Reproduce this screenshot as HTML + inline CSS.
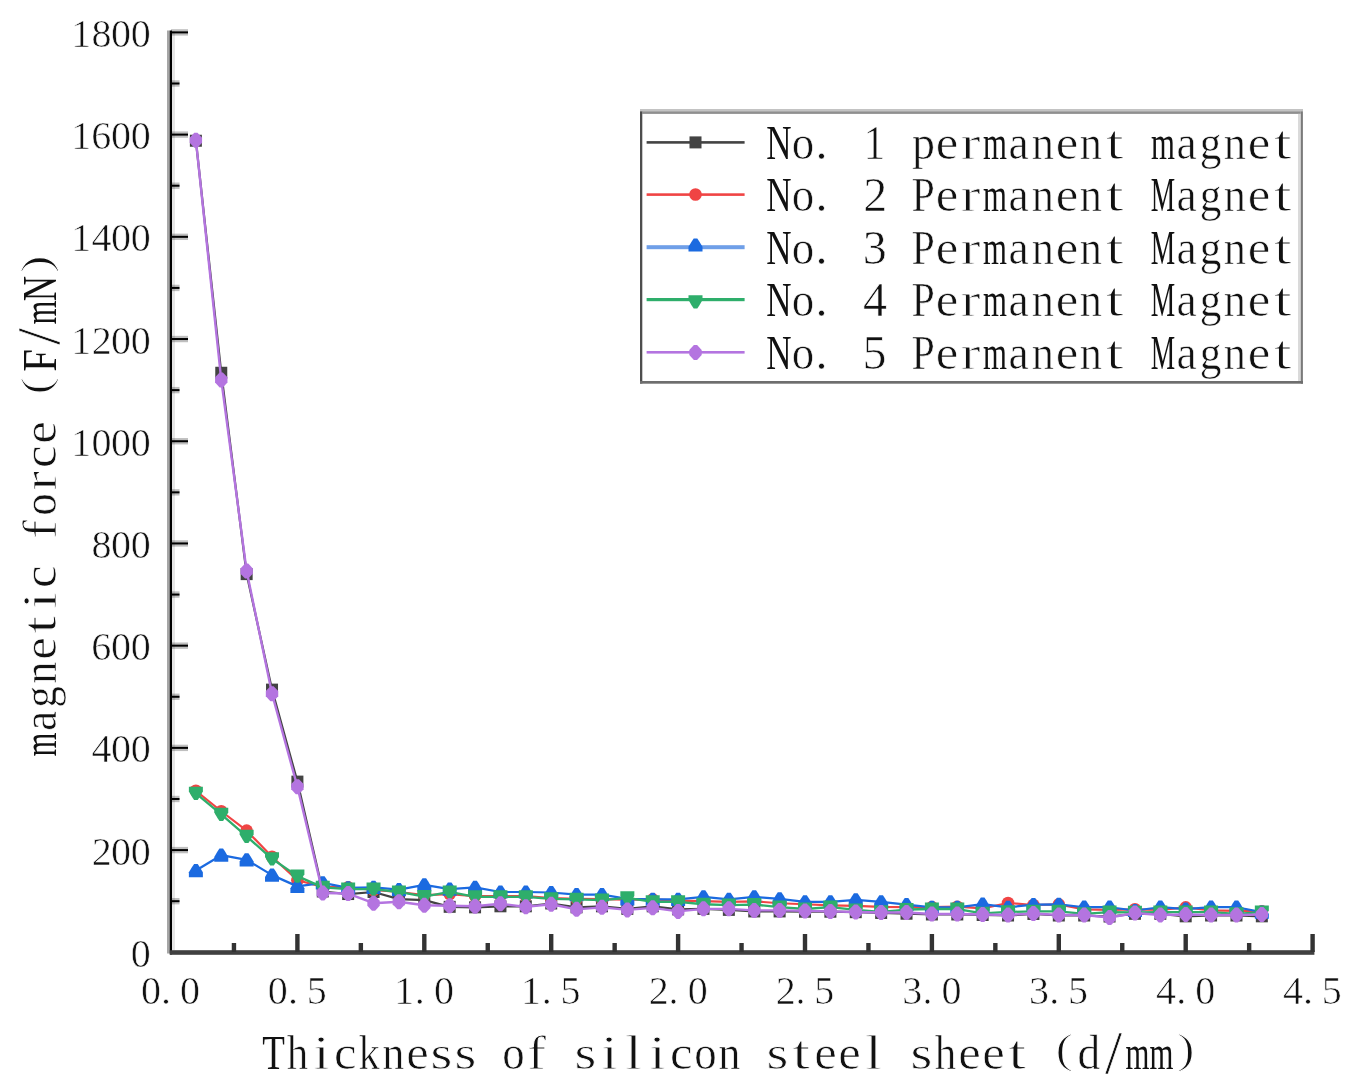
<!DOCTYPE html><html><head><meta charset="utf-8"><style>html,body{margin:0;padding:0;background:#fff;}body{width:1348px;height:1083px;overflow:hidden;} svg{display:block;filter:blur(0.4px);}text{font-family:"Liberation Serif",serif;stroke:#fff;stroke-width:0.6px;paint-order:normal;}</style></head><body><svg width="1348" height="1083" viewBox="0 0 1348 1083">
<rect width="100%" height="100%" fill="#fff"/>
<g font-family="Liberation Serif" fill="#111">
<text transform="translate(140.70,966.90) scale(1.000,1)" x="-10.00" font-size="40">0</text>
<text transform="translate(101.50,864.69) scale(1.000,1)" x="-9.78" font-size="40">2</text><text transform="translate(121.10,864.69) scale(1.000,1)" x="-10.00" font-size="40">0</text><text transform="translate(140.70,864.69) scale(1.000,1)" x="-10.00" font-size="40">0</text>
<text transform="translate(101.50,762.48) scale(1.000,1)" x="-10.08" font-size="40">4</text><text transform="translate(121.10,762.48) scale(1.000,1)" x="-10.00" font-size="40">0</text><text transform="translate(140.70,762.48) scale(1.000,1)" x="-10.00" font-size="40">0</text>
<text transform="translate(101.50,660.26) scale(1.000,1)" x="-10.26" font-size="40">6</text><text transform="translate(121.10,660.26) scale(1.000,1)" x="-10.00" font-size="40">0</text><text transform="translate(140.70,660.26) scale(1.000,1)" x="-10.00" font-size="40">0</text>
<text transform="translate(101.50,558.05) scale(1.000,1)" x="-10.00" font-size="40">8</text><text transform="translate(121.10,558.05) scale(1.000,1)" x="-10.00" font-size="40">0</text><text transform="translate(140.70,558.05) scale(1.000,1)" x="-10.00" font-size="40">0</text>
<text transform="translate(81.90,455.84) scale(1.000,1)" x="-10.56" font-size="40">1</text><text transform="translate(101.50,455.84) scale(1.000,1)" x="-10.00" font-size="40">0</text><text transform="translate(121.10,455.84) scale(1.000,1)" x="-10.00" font-size="40">0</text><text transform="translate(140.70,455.84) scale(1.000,1)" x="-10.00" font-size="40">0</text>
<text transform="translate(81.90,353.63) scale(1.000,1)" x="-10.56" font-size="40">1</text><text transform="translate(101.50,353.63) scale(1.000,1)" x="-9.78" font-size="40">2</text><text transform="translate(121.10,353.63) scale(1.000,1)" x="-10.00" font-size="40">0</text><text transform="translate(140.70,353.63) scale(1.000,1)" x="-10.00" font-size="40">0</text>
<text transform="translate(81.90,251.42) scale(1.000,1)" x="-10.56" font-size="40">1</text><text transform="translate(101.50,251.42) scale(1.000,1)" x="-10.08" font-size="40">4</text><text transform="translate(121.10,251.42) scale(1.000,1)" x="-10.00" font-size="40">0</text><text transform="translate(140.70,251.42) scale(1.000,1)" x="-10.00" font-size="40">0</text>
<text transform="translate(81.90,149.20) scale(1.000,1)" x="-10.56" font-size="40">1</text><text transform="translate(101.50,149.20) scale(1.000,1)" x="-10.26" font-size="40">6</text><text transform="translate(121.10,149.20) scale(1.000,1)" x="-10.00" font-size="40">0</text><text transform="translate(140.70,149.20) scale(1.000,1)" x="-10.00" font-size="40">0</text>
<text transform="translate(81.90,46.99) scale(1.000,1)" x="-10.56" font-size="40">1</text><text transform="translate(101.50,46.99) scale(1.000,1)" x="-10.00" font-size="40">8</text><text transform="translate(121.10,46.99) scale(1.000,1)" x="-10.00" font-size="40">0</text><text transform="translate(140.70,46.99) scale(1.000,1)" x="-10.00" font-size="40">0</text>
<text transform="translate(150.90,1004.00) scale(1.000,1)" x="-10.00" font-size="40">0</text><text transform="translate(165.99,1004.00) scale(1.000,1)" x="-5.00" font-size="40">.</text><text transform="translate(190.10,1004.00) scale(1.000,1)" x="-10.00" font-size="40">0</text>
<text transform="translate(277.80,1004.00) scale(1.000,1)" x="-10.00" font-size="40">0</text><text transform="translate(292.89,1004.00) scale(1.000,1)" x="-5.00" font-size="40">.</text><text transform="translate(317.00,1004.00) scale(1.000,1)" x="-10.38" font-size="40">5</text>
<text transform="translate(404.70,1004.00) scale(1.000,1)" x="-10.56" font-size="40">1</text><text transform="translate(419.79,1004.00) scale(1.000,1)" x="-5.00" font-size="40">.</text><text transform="translate(443.90,1004.00) scale(1.000,1)" x="-10.00" font-size="40">0</text>
<text transform="translate(531.60,1004.00) scale(1.000,1)" x="-10.56" font-size="40">1</text><text transform="translate(546.69,1004.00) scale(1.000,1)" x="-5.00" font-size="40">.</text><text transform="translate(570.80,1004.00) scale(1.000,1)" x="-10.38" font-size="40">5</text>
<text transform="translate(658.50,1004.00) scale(1.000,1)" x="-9.78" font-size="40">2</text><text transform="translate(673.59,1004.00) scale(1.000,1)" x="-5.00" font-size="40">.</text><text transform="translate(697.70,1004.00) scale(1.000,1)" x="-10.00" font-size="40">0</text>
<text transform="translate(785.40,1004.00) scale(1.000,1)" x="-9.78" font-size="40">2</text><text transform="translate(800.49,1004.00) scale(1.000,1)" x="-5.00" font-size="40">.</text><text transform="translate(824.60,1004.00) scale(1.000,1)" x="-10.38" font-size="40">5</text>
<text transform="translate(912.30,1004.00) scale(1.000,1)" x="-10.18" font-size="40">3</text><text transform="translate(927.39,1004.00) scale(1.000,1)" x="-5.00" font-size="40">.</text><text transform="translate(951.50,1004.00) scale(1.000,1)" x="-10.00" font-size="40">0</text>
<text transform="translate(1039.20,1004.00) scale(1.000,1)" x="-10.18" font-size="40">3</text><text transform="translate(1054.29,1004.00) scale(1.000,1)" x="-5.00" font-size="40">.</text><text transform="translate(1078.40,1004.00) scale(1.000,1)" x="-10.38" font-size="40">5</text>
<text transform="translate(1166.10,1004.00) scale(1.000,1)" x="-10.08" font-size="40">4</text><text transform="translate(1181.19,1004.00) scale(1.000,1)" x="-5.00" font-size="40">.</text><text transform="translate(1205.30,1004.00) scale(1.000,1)" x="-10.00" font-size="40">0</text>
<text transform="translate(1293.00,1004.00) scale(1.000,1)" x="-10.08" font-size="40">4</text><text transform="translate(1308.09,1004.00) scale(1.000,1)" x="-5.00" font-size="40">.</text><text transform="translate(1332.20,1004.00) scale(1.000,1)" x="-10.38" font-size="40">5</text>
<text transform="translate(273.50,1069.00) scale(0.770,1)" x="-14.70" style="stroke-width:0" font-size="48">T</text><text transform="translate(297.50,1069.00) scale(0.895,1)" x="-11.92" font-size="48">h</text><text transform="translate(321.50,1069.00) scale(1.270,1)" x="-6.71" style="stroke-width:0.90px" font-size="48">i</text><text transform="translate(345.50,1069.00) scale(1.056,1)" x="-10.83" style="stroke-width:0.67px" font-size="48">c</text><text transform="translate(369.50,1069.00) scale(0.888,1)" x="-12.46" font-size="48">k</text><text transform="translate(393.50,1069.00) scale(0.925,1)" x="-12.19" font-size="48">n</text><text transform="translate(417.50,1069.00) scale(1.058,1)" x="-10.76" style="stroke-width:0.68px" font-size="48">e</text><text transform="translate(441.50,1069.00) scale(1.168,1)" x="-9.46" style="stroke-width:0.80px" font-size="48">s</text><text transform="translate(465.50,1069.00) scale(1.168,1)" x="-9.46" style="stroke-width:0.80px" font-size="48">s</text><text transform="translate(513.50,1069.00) scale(0.934,1)" x="-12.00" font-size="48">o</text><text transform="translate(537.50,1069.00) scale(1.172,1)" x="-8.73" style="stroke-width:0.81px" font-size="48">f</text><text transform="translate(585.50,1069.00) scale(1.168,1)" x="-9.46" style="stroke-width:0.80px" font-size="48">s</text><text transform="translate(609.50,1069.00) scale(1.270,1)" x="-6.71" style="stroke-width:0.90px" font-size="48">i</text><text transform="translate(633.50,1069.00) scale(1.314,1)" x="-6.67" style="stroke-width:0.93px" font-size="48">l</text><text transform="translate(657.50,1069.00) scale(1.270,1)" x="-6.71" style="stroke-width:0.90px" font-size="48">i</text><text transform="translate(681.50,1069.00) scale(1.056,1)" x="-10.83" style="stroke-width:0.67px" font-size="48">c</text><text transform="translate(705.50,1069.00) scale(0.934,1)" x="-12.00" font-size="48">o</text><text transform="translate(729.50,1069.00) scale(0.925,1)" x="-12.19" font-size="48">n</text><text transform="translate(777.50,1069.00) scale(1.168,1)" x="-9.46" style="stroke-width:0.80px" font-size="48">s</text><text transform="translate(801.50,1069.00) scale(1.351,1)" x="-6.76" style="stroke-width:0.96px" font-size="48">t</text><text transform="translate(825.50,1069.00) scale(1.058,1)" x="-10.76" style="stroke-width:0.68px" font-size="48">e</text><text transform="translate(849.50,1069.00) scale(1.058,1)" x="-10.76" style="stroke-width:0.68px" font-size="48">e</text><text transform="translate(873.50,1069.00) scale(1.314,1)" x="-6.67" style="stroke-width:0.93px" font-size="48">l</text><text transform="translate(921.50,1069.00) scale(1.168,1)" x="-9.46" style="stroke-width:0.80px" font-size="48">s</text><text transform="translate(945.50,1069.00) scale(0.895,1)" x="-11.92" font-size="48">h</text><text transform="translate(969.50,1069.00) scale(1.058,1)" x="-10.76" style="stroke-width:0.68px" font-size="48">e</text><text transform="translate(993.50,1069.00) scale(1.058,1)" x="-10.76" style="stroke-width:0.68px" font-size="48">e</text><text transform="translate(1017.50,1069.00) scale(1.351,1)" x="-6.76" style="stroke-width:0.96px" font-size="48">t</text><text transform="translate(1064.70,1069.00) scale(1.250,1)" x="-7.31" y="-6.00" style="stroke-width:1.04px" font-size="42.38">(</text><text transform="translate(1089.50,1069.00) scale(0.946,1)" x="-12.57" font-size="48">d</text><text transform="translate(1113.50,1069.00) scale(1.000,1)" x="-8.54" y="3.50" font-size="61.44">/</text><text transform="translate(1137.50,1069.00) scale(0.641,1)" x="-18.80" style="stroke-width:0" font-size="48">m</text><text transform="translate(1161.50,1069.00) scale(0.641,1)" x="-18.80" style="stroke-width:0" font-size="48">m</text><text transform="translate(1185.50,1069.00) scale(1.250,1)" x="-6.81" y="-6.00" style="stroke-width:1.04px" font-size="42.38">)</text>
<text transform="translate(55.60,744.50) rotate(-90) scale(0.641,1)" x="-18.80" style="stroke-width:0" font-size="48">m</text><text transform="translate(55.60,720.50) rotate(-90) scale(0.949,1)" x="-11.17" font-size="48">a</text><text transform="translate(55.60,696.50) rotate(-90) scale(0.904,1)" x="-12.57" font-size="48">g</text><text transform="translate(55.60,672.50) rotate(-90) scale(0.925,1)" x="-12.19" font-size="48">n</text><text transform="translate(55.60,648.50) rotate(-90) scale(1.058,1)" x="-10.76" style="stroke-width:0.68px" font-size="48">e</text><text transform="translate(55.60,624.50) rotate(-90) scale(1.351,1)" x="-6.76" style="stroke-width:0.96px" font-size="48">t</text><text transform="translate(55.60,600.50) rotate(-90) scale(1.270,1)" x="-6.71" style="stroke-width:0.90px" font-size="48">i</text><text transform="translate(55.60,576.50) rotate(-90) scale(1.056,1)" x="-10.83" style="stroke-width:0.67px" font-size="48">c</text><text transform="translate(55.60,528.50) rotate(-90) scale(1.172,1)" x="-8.73" style="stroke-width:0.81px" font-size="48">f</text><text transform="translate(55.60,504.50) rotate(-90) scale(0.934,1)" x="-12.00" font-size="48">o</text><text transform="translate(55.60,480.50) rotate(-90) scale(1.233,1)" x="-8.26" style="stroke-width:0.86px" font-size="48">r</text><text transform="translate(55.60,456.50) rotate(-90) scale(1.056,1)" x="-10.83" style="stroke-width:0.67px" font-size="48">c</text><text transform="translate(55.60,432.50) rotate(-90) scale(1.058,1)" x="-10.76" style="stroke-width:0.68px" font-size="48">e</text><text transform="translate(55.60,385.30) rotate(-90) scale(1.250,1)" x="-7.31" y="-6.00" style="stroke-width:1.04px" font-size="42.38">(</text><text transform="translate(55.60,360.50) rotate(-90) scale(0.848,1)" x="-13.17" style="stroke-width:0" font-size="48">F</text><text transform="translate(55.60,336.50) rotate(-90) scale(1.000,1)" x="-8.54" y="3.50" font-size="61.44">/</text><text transform="translate(55.60,312.50) rotate(-90) scale(0.641,1)" x="-18.80" style="stroke-width:0" font-size="48">m</text><text transform="translate(55.60,288.50) rotate(-90) scale(0.730,1)" x="-17.47" style="stroke-width:0" font-size="48">N</text><text transform="translate(55.60,264.50) rotate(-90) scale(1.250,1)" x="-6.81" y="-6.00" style="stroke-width:1.04px" font-size="42.38">)</text>
</g>
<rect x="167" y="30.5" width="3" height="923" fill="#a6a6a6"/><rect x="172" y="31" width="3" height="919" fill="#e6e6e6"/><rect x="169.8" y="30.5" width="2.2" height="924" fill="#000"/><rect x="171" y="897.99" width="8.5" height="6.4" fill="#000" opacity="0.25"/><rect x="171" y="900.19" width="8.5" height="2.0" fill="#000"/><rect x="171" y="846.89" width="17" height="6.4" fill="#000" opacity="0.25"/><rect x="171" y="849.09" width="17" height="2.0" fill="#000"/><rect x="171" y="795.78" width="8.5" height="6.4" fill="#000" opacity="0.25"/><rect x="171" y="797.98" width="8.5" height="2.0" fill="#000"/><rect x="171" y="744.68" width="17" height="6.4" fill="#000" opacity="0.25"/><rect x="171" y="746.88" width="17" height="2.0" fill="#000"/><rect x="171" y="693.57" width="8.5" height="6.4" fill="#000" opacity="0.25"/><rect x="171" y="695.77" width="8.5" height="2.0" fill="#000"/><rect x="171" y="642.46" width="17" height="6.4" fill="#000" opacity="0.25"/><rect x="171" y="644.66" width="17" height="2.0" fill="#000"/><rect x="171" y="591.36" width="8.5" height="6.4" fill="#000" opacity="0.25"/><rect x="171" y="593.56" width="8.5" height="2.0" fill="#000"/><rect x="171" y="540.25" width="17" height="6.4" fill="#000" opacity="0.25"/><rect x="171" y="542.45" width="17" height="2.0" fill="#000"/><rect x="171" y="489.15" width="8.5" height="6.4" fill="#000" opacity="0.25"/><rect x="171" y="491.35" width="8.5" height="2.0" fill="#000"/><rect x="171" y="438.04" width="17" height="6.4" fill="#000" opacity="0.25"/><rect x="171" y="440.24" width="17" height="2.0" fill="#000"/><rect x="171" y="386.93" width="8.5" height="6.4" fill="#000" opacity="0.25"/><rect x="171" y="389.13" width="8.5" height="2.0" fill="#000"/><rect x="171" y="335.83" width="17" height="6.4" fill="#000" opacity="0.25"/><rect x="171" y="338.03" width="17" height="2.0" fill="#000"/><rect x="171" y="284.72" width="8.5" height="6.4" fill="#000" opacity="0.25"/><rect x="171" y="286.92" width="8.5" height="2.0" fill="#000"/><rect x="171" y="233.62" width="17" height="6.4" fill="#000" opacity="0.25"/><rect x="171" y="235.82" width="17" height="2.0" fill="#000"/><rect x="171" y="182.51" width="8.5" height="6.4" fill="#000" opacity="0.25"/><rect x="171" y="184.71" width="8.5" height="2.0" fill="#000"/><rect x="171" y="131.40" width="17" height="6.4" fill="#000" opacity="0.25"/><rect x="171" y="133.60" width="17" height="2.0" fill="#000"/><rect x="171" y="80.30" width="8.5" height="6.4" fill="#000" opacity="0.25"/><rect x="171" y="82.50" width="8.5" height="2.0" fill="#000"/><rect x="171" y="29.19" width="17" height="6.4" fill="#000" opacity="0.25"/><rect x="171" y="31.39" width="17" height="2.0" fill="#000"/><rect x="169.8" y="950.2" width="1144.60" height="4.6" fill="#404040"/><rect x="231.75" y="943.00" width="4.4" height="9" fill="#333"/><rect x="295.20" y="934.00" width="4.4" height="18" fill="#333"/><rect x="358.65" y="943.00" width="4.4" height="9" fill="#333"/><rect x="422.10" y="934.00" width="4.4" height="18" fill="#333"/><rect x="485.55" y="943.00" width="4.4" height="9" fill="#333"/><rect x="549.00" y="934.00" width="4.4" height="18" fill="#333"/><rect x="612.45" y="943.00" width="4.4" height="9" fill="#333"/><rect x="675.90" y="934.00" width="4.4" height="18" fill="#333"/><rect x="739.35" y="943.00" width="4.4" height="9" fill="#333"/><rect x="802.80" y="934.00" width="4.4" height="18" fill="#333"/><rect x="866.25" y="943.00" width="4.4" height="9" fill="#333"/><rect x="929.70" y="934.00" width="4.4" height="18" fill="#333"/><rect x="993.15" y="943.00" width="4.4" height="9" fill="#333"/><rect x="1056.60" y="934.00" width="4.4" height="18" fill="#333"/><rect x="1120.05" y="943.00" width="4.4" height="9" fill="#333"/><rect x="1183.50" y="934.00" width="4.4" height="18" fill="#333"/><rect x="1246.95" y="943.00" width="4.4" height="9" fill="#333"/><rect x="1310.40" y="934.00" width="4.4" height="18" fill="#333"/>
<polyline points="195.88,140.74 221.26,372.76 246.64,574.12 272.02,689.62 297.40,781.61 322.78,891.48 348.16,894.04 373.54,891.99 398.92,899.15 424.30,900.17 449.68,906.82 475.06,907.33 500.44,906.30 525.82,906.30 551.20,903.49 576.58,907.33 601.96,906.30 627.34,908.86 652.72,906.30 678.10,909.37 703.48,908.86 728.86,909.88 754.24,911.42 779.62,911.42 805.00,911.72 830.38,911.72 855.76,912.18 881.14,912.95 906.52,913.71 931.90,914.48 957.28,914.48 982.66,914.99 1008.04,915.50 1033.42,913.97 1058.80,915.50 1084.18,915.50 1109.56,916.53 1134.94,913.82 1160.32,913.82 1185.70,916.32 1211.08,915.50 1236.46,915.50 1261.84,916.32" fill="none" stroke="#434343" stroke-width="2.2" stroke-linejoin="round"/>
<rect x="189.88" y="134.74" width="12" height="12" fill="#434343"/><rect x="215.26" y="366.76" width="12" height="12" fill="#434343"/><rect x="240.64" y="568.12" width="12" height="12" fill="#434343"/><rect x="266.02" y="683.62" width="12" height="12" fill="#434343"/><rect x="291.40" y="775.61" width="12" height="12" fill="#434343"/><rect x="316.78" y="885.48" width="12" height="12" fill="#434343"/><rect x="342.16" y="888.04" width="12" height="12" fill="#434343"/><rect x="367.54" y="885.99" width="12" height="12" fill="#434343"/><rect x="392.92" y="893.15" width="12" height="12" fill="#434343"/><rect x="418.30" y="894.17" width="12" height="12" fill="#434343"/><rect x="443.68" y="900.82" width="12" height="12" fill="#434343"/><rect x="469.06" y="901.33" width="12" height="12" fill="#434343"/><rect x="494.44" y="900.30" width="12" height="12" fill="#434343"/><rect x="519.82" y="900.30" width="12" height="12" fill="#434343"/><rect x="545.20" y="897.49" width="12" height="12" fill="#434343"/><rect x="570.58" y="901.33" width="12" height="12" fill="#434343"/><rect x="595.96" y="900.30" width="12" height="12" fill="#434343"/><rect x="621.34" y="902.86" width="12" height="12" fill="#434343"/><rect x="646.72" y="900.30" width="12" height="12" fill="#434343"/><rect x="672.10" y="903.37" width="12" height="12" fill="#434343"/><rect x="697.48" y="902.86" width="12" height="12" fill="#434343"/><rect x="722.86" y="903.88" width="12" height="12" fill="#434343"/><rect x="748.24" y="905.42" width="12" height="12" fill="#434343"/><rect x="773.62" y="905.42" width="12" height="12" fill="#434343"/><rect x="799.00" y="905.72" width="12" height="12" fill="#434343"/><rect x="824.38" y="905.72" width="12" height="12" fill="#434343"/><rect x="849.76" y="906.18" width="12" height="12" fill="#434343"/><rect x="875.14" y="906.95" width="12" height="12" fill="#434343"/><rect x="900.52" y="907.71" width="12" height="12" fill="#434343"/><rect x="925.90" y="908.48" width="12" height="12" fill="#434343"/><rect x="951.28" y="908.48" width="12" height="12" fill="#434343"/><rect x="976.66" y="908.99" width="12" height="12" fill="#434343"/><rect x="1002.04" y="909.50" width="12" height="12" fill="#434343"/><rect x="1027.42" y="907.97" width="12" height="12" fill="#434343"/><rect x="1052.80" y="909.50" width="12" height="12" fill="#434343"/><rect x="1078.18" y="909.50" width="12" height="12" fill="#434343"/><rect x="1103.56" y="910.53" width="12" height="12" fill="#434343"/><rect x="1128.94" y="907.82" width="12" height="12" fill="#434343"/><rect x="1154.32" y="907.82" width="12" height="12" fill="#434343"/><rect x="1179.70" y="910.32" width="12" height="12" fill="#434343"/><rect x="1205.08" y="909.50" width="12" height="12" fill="#434343"/><rect x="1230.46" y="909.50" width="12" height="12" fill="#434343"/><rect x="1255.84" y="910.32" width="12" height="12" fill="#434343"/>
<polyline points="195.88,790.81 221.26,811.25 246.64,830.67 272.02,856.73 297.40,880.24 322.78,886.88 348.16,887.40 373.54,889.95 398.92,891.99 424.30,895.06 449.68,894.04 475.06,896.08 500.44,896.08 525.82,896.08 551.20,898.13 576.58,898.89 601.96,899.15 627.34,899.66 652.72,899.41 678.10,900.68 703.48,901.19 728.86,901.91 754.24,901.30 779.62,903.24 805.00,904.26 830.38,905.28 855.76,905.79 881.14,906.82 906.52,907.17 931.90,907.17 957.28,906.71 982.66,908.35 1008.04,902.98 1033.42,904.98 1058.80,904.41 1084.18,909.32 1109.56,909.88 1134.94,909.32 1160.32,909.88 1185.70,907.33 1211.08,910.39 1236.46,910.90 1261.84,911.42" fill="none" stroke="#f04444" stroke-width="2.2" stroke-linejoin="round"/>
<circle cx="195.88" cy="790.81" r="6.3" fill="#f04444"/><circle cx="221.26" cy="811.25" r="6.3" fill="#f04444"/><circle cx="246.64" cy="830.67" r="6.3" fill="#f04444"/><circle cx="272.02" cy="856.73" r="6.3" fill="#f04444"/><circle cx="297.40" cy="880.24" r="6.3" fill="#f04444"/><circle cx="322.78" cy="886.88" r="6.3" fill="#f04444"/><circle cx="348.16" cy="887.40" r="6.3" fill="#f04444"/><circle cx="373.54" cy="889.95" r="6.3" fill="#f04444"/><circle cx="398.92" cy="891.99" r="6.3" fill="#f04444"/><circle cx="424.30" cy="895.06" r="6.3" fill="#f04444"/><circle cx="449.68" cy="894.04" r="6.3" fill="#f04444"/><circle cx="475.06" cy="896.08" r="6.3" fill="#f04444"/><circle cx="500.44" cy="896.08" r="6.3" fill="#f04444"/><circle cx="525.82" cy="896.08" r="6.3" fill="#f04444"/><circle cx="551.20" cy="898.13" r="6.3" fill="#f04444"/><circle cx="576.58" cy="898.89" r="6.3" fill="#f04444"/><circle cx="601.96" cy="899.15" r="6.3" fill="#f04444"/><circle cx="627.34" cy="899.66" r="6.3" fill="#f04444"/><circle cx="652.72" cy="899.41" r="6.3" fill="#f04444"/><circle cx="678.10" cy="900.68" r="6.3" fill="#f04444"/><circle cx="703.48" cy="901.19" r="6.3" fill="#f04444"/><circle cx="728.86" cy="901.91" r="6.3" fill="#f04444"/><circle cx="754.24" cy="901.30" r="6.3" fill="#f04444"/><circle cx="779.62" cy="903.24" r="6.3" fill="#f04444"/><circle cx="805.00" cy="904.26" r="6.3" fill="#f04444"/><circle cx="830.38" cy="905.28" r="6.3" fill="#f04444"/><circle cx="855.76" cy="905.79" r="6.3" fill="#f04444"/><circle cx="881.14" cy="906.82" r="6.3" fill="#f04444"/><circle cx="906.52" cy="907.17" r="6.3" fill="#f04444"/><circle cx="931.90" cy="907.17" r="6.3" fill="#f04444"/><circle cx="957.28" cy="906.71" r="6.3" fill="#f04444"/><circle cx="982.66" cy="908.35" r="6.3" fill="#f04444"/><circle cx="1008.04" cy="902.98" r="6.3" fill="#f04444"/><circle cx="1033.42" cy="904.98" r="6.3" fill="#f04444"/><circle cx="1058.80" cy="904.41" r="6.3" fill="#f04444"/><circle cx="1084.18" cy="909.32" r="6.3" fill="#f04444"/><circle cx="1109.56" cy="909.88" r="6.3" fill="#f04444"/><circle cx="1134.94" cy="909.32" r="6.3" fill="#f04444"/><circle cx="1160.32" cy="909.88" r="6.3" fill="#f04444"/><circle cx="1185.70" cy="907.33" r="6.3" fill="#f04444"/><circle cx="1211.08" cy="910.39" r="6.3" fill="#f04444"/><circle cx="1236.46" cy="910.90" r="6.3" fill="#f04444"/><circle cx="1261.84" cy="911.42" r="6.3" fill="#f04444"/>
<polyline points="195.88,870.53 221.26,855.20 246.64,859.80 272.02,875.13 297.40,886.37 322.78,882.80 348.16,887.91 373.54,887.40 398.92,889.70 424.30,884.84 449.68,889.18 475.06,887.40 500.44,891.99 525.82,891.99 551.20,892.51 576.58,894.55 601.96,894.55 627.34,898.89 652.72,899.30 678.10,899.30 703.48,896.90 728.86,899.30 754.24,896.90 779.62,898.89 805.00,901.81 830.38,901.81 855.76,899.81 881.14,901.81 906.52,904.62 931.90,907.33 957.28,907.33 982.66,904.21 1008.04,907.33 1033.42,904.62 1058.80,904.31 1084.18,907.22 1109.56,907.22 1134.94,910.50 1160.32,907.22 1185.70,909.22 1211.08,907.22 1236.46,907.22 1261.84,912.13" fill="none" stroke="#1b6ae0" stroke-width="2.2" stroke-linejoin="round"/>
<polygon points="188.88,877.13 202.88,877.13 202.88,872.33 199.68,866.93 197.68,863.93 194.08,863.93 192.08,866.93 188.88,872.33" fill="#1b6ae0"/><polygon points="214.26,861.80 228.26,861.80 228.26,857.00 225.06,851.60 223.06,848.60 219.46,848.60 217.46,851.60 214.26,857.00" fill="#1b6ae0"/><polygon points="239.64,866.40 253.64,866.40 253.64,861.60 250.44,856.20 248.44,853.20 244.84,853.20 242.84,856.20 239.64,861.60" fill="#1b6ae0"/><polygon points="265.02,881.73 279.02,881.73 279.02,876.93 275.82,871.53 273.82,868.53 270.22,868.53 268.22,871.53 265.02,876.93" fill="#1b6ae0"/><polygon points="290.40,892.97 304.40,892.97 304.40,888.17 301.20,882.77 299.20,879.77 295.60,879.77 293.60,882.77 290.40,888.17" fill="#1b6ae0"/><polygon points="315.78,889.40 329.78,889.40 329.78,884.60 326.58,879.20 324.58,876.20 320.98,876.20 318.98,879.20 315.78,884.60" fill="#1b6ae0"/><polygon points="341.16,894.51 355.16,894.51 355.16,889.71 351.96,884.31 349.96,881.31 346.36,881.31 344.36,884.31 341.16,889.71" fill="#1b6ae0"/><polygon points="366.54,894.00 380.54,894.00 380.54,889.20 377.34,883.80 375.34,880.80 371.74,880.80 369.74,883.80 366.54,889.20" fill="#1b6ae0"/><polygon points="391.92,896.30 405.92,896.30 405.92,891.50 402.72,886.10 400.72,883.10 397.12,883.10 395.12,886.10 391.92,891.50" fill="#1b6ae0"/><polygon points="417.30,891.44 431.30,891.44 431.30,886.64 428.10,881.24 426.10,878.24 422.50,878.24 420.50,881.24 417.30,886.64" fill="#1b6ae0"/><polygon points="442.68,895.78 456.68,895.78 456.68,890.98 453.48,885.58 451.48,882.58 447.88,882.58 445.88,885.58 442.68,890.98" fill="#1b6ae0"/><polygon points="468.06,894.00 482.06,894.00 482.06,889.20 478.86,883.80 476.86,880.80 473.26,880.80 471.26,883.80 468.06,889.20" fill="#1b6ae0"/><polygon points="493.44,898.59 507.44,898.59 507.44,893.79 504.24,888.39 502.24,885.39 498.64,885.39 496.64,888.39 493.44,893.79" fill="#1b6ae0"/><polygon points="518.82,898.59 532.82,898.59 532.82,893.79 529.62,888.39 527.62,885.39 524.02,885.39 522.02,888.39 518.82,893.79" fill="#1b6ae0"/><polygon points="544.20,899.11 558.20,899.11 558.20,894.31 555.00,888.91 553.00,885.91 549.40,885.91 547.40,888.91 544.20,894.31" fill="#1b6ae0"/><polygon points="569.58,901.15 583.58,901.15 583.58,896.35 580.38,890.95 578.38,887.95 574.78,887.95 572.78,890.95 569.58,896.35" fill="#1b6ae0"/><polygon points="594.96,901.15 608.96,901.15 608.96,896.35 605.76,890.95 603.76,887.95 600.16,887.95 598.16,890.95 594.96,896.35" fill="#1b6ae0"/><polygon points="620.34,905.49 634.34,905.49 634.34,900.69 631.14,895.29 629.14,892.29 625.54,892.29 623.54,895.29 620.34,900.69" fill="#1b6ae0"/><polygon points="645.72,905.90 659.72,905.90 659.72,901.10 656.52,895.70 654.52,892.70 650.92,892.70 648.92,895.70 645.72,901.10" fill="#1b6ae0"/><polygon points="671.10,905.90 685.10,905.90 685.10,901.10 681.90,895.70 679.90,892.70 676.30,892.70 674.30,895.70 671.10,901.10" fill="#1b6ae0"/><polygon points="696.48,903.50 710.48,903.50 710.48,898.70 707.28,893.30 705.28,890.30 701.68,890.30 699.68,893.30 696.48,898.70" fill="#1b6ae0"/><polygon points="721.86,905.90 735.86,905.90 735.86,901.10 732.66,895.70 730.66,892.70 727.06,892.70 725.06,895.70 721.86,901.10" fill="#1b6ae0"/><polygon points="747.24,903.50 761.24,903.50 761.24,898.70 758.04,893.30 756.04,890.30 752.44,890.30 750.44,893.30 747.24,898.70" fill="#1b6ae0"/><polygon points="772.62,905.49 786.62,905.49 786.62,900.69 783.42,895.29 781.42,892.29 777.82,892.29 775.82,895.29 772.62,900.69" fill="#1b6ae0"/><polygon points="798.00,908.41 812.00,908.41 812.00,903.61 808.80,898.21 806.80,895.21 803.20,895.21 801.20,898.21 798.00,903.61" fill="#1b6ae0"/><polygon points="823.38,908.41 837.38,908.41 837.38,903.61 834.18,898.21 832.18,895.21 828.58,895.21 826.58,898.21 823.38,903.61" fill="#1b6ae0"/><polygon points="848.76,906.41 862.76,906.41 862.76,901.61 859.56,896.21 857.56,893.21 853.96,893.21 851.96,896.21 848.76,901.61" fill="#1b6ae0"/><polygon points="874.14,908.41 888.14,908.41 888.14,903.61 884.94,898.21 882.94,895.21 879.34,895.21 877.34,898.21 874.14,903.61" fill="#1b6ae0"/><polygon points="899.52,911.22 913.52,911.22 913.52,906.42 910.32,901.02 908.32,898.02 904.72,898.02 902.72,901.02 899.52,906.42" fill="#1b6ae0"/><polygon points="924.90,913.93 938.90,913.93 938.90,909.13 935.70,903.73 933.70,900.73 930.10,900.73 928.10,903.73 924.90,909.13" fill="#1b6ae0"/><polygon points="950.28,913.93 964.28,913.93 964.28,909.13 961.08,903.73 959.08,900.73 955.48,900.73 953.48,903.73 950.28,909.13" fill="#1b6ae0"/><polygon points="975.66,910.81 989.66,910.81 989.66,906.01 986.46,900.61 984.46,897.61 980.86,897.61 978.86,900.61 975.66,906.01" fill="#1b6ae0"/><polygon points="1001.04,913.93 1015.04,913.93 1015.04,909.13 1011.84,903.73 1009.84,900.73 1006.24,900.73 1004.24,903.73 1001.04,909.13" fill="#1b6ae0"/><polygon points="1026.42,911.22 1040.42,911.22 1040.42,906.42 1037.22,901.02 1035.22,898.02 1031.62,898.02 1029.62,901.02 1026.42,906.42" fill="#1b6ae0"/><polygon points="1051.80,910.91 1065.80,910.91 1065.80,906.11 1062.60,900.71 1060.60,897.71 1057.00,897.71 1055.00,900.71 1051.80,906.11" fill="#1b6ae0"/><polygon points="1077.18,913.82 1091.18,913.82 1091.18,909.02 1087.98,903.62 1085.98,900.62 1082.38,900.62 1080.38,903.62 1077.18,909.02" fill="#1b6ae0"/><polygon points="1102.56,913.82 1116.56,913.82 1116.56,909.02 1113.36,903.62 1111.36,900.62 1107.76,900.62 1105.76,903.62 1102.56,909.02" fill="#1b6ae0"/><polygon points="1127.94,917.10 1141.94,917.10 1141.94,912.30 1138.74,906.90 1136.74,903.90 1133.14,903.90 1131.14,906.90 1127.94,912.30" fill="#1b6ae0"/><polygon points="1153.32,913.82 1167.32,913.82 1167.32,909.02 1164.12,903.62 1162.12,900.62 1158.52,900.62 1156.52,903.62 1153.32,909.02" fill="#1b6ae0"/><polygon points="1178.70,915.82 1192.70,915.82 1192.70,911.02 1189.50,905.62 1187.50,902.62 1183.90,902.62 1181.90,905.62 1178.70,911.02" fill="#1b6ae0"/><polygon points="1204.08,913.82 1218.08,913.82 1218.08,909.02 1214.88,903.62 1212.88,900.62 1209.28,900.62 1207.28,903.62 1204.08,909.02" fill="#1b6ae0"/><polygon points="1229.46,913.82 1243.46,913.82 1243.46,909.02 1240.26,903.62 1238.26,900.62 1234.66,900.62 1232.66,903.62 1229.46,909.02" fill="#1b6ae0"/><polygon points="1254.84,918.73 1268.84,918.73 1268.84,913.93 1265.64,908.53 1263.64,905.53 1260.04,905.53 1258.04,908.53 1254.84,913.93" fill="#1b6ae0"/>
<polyline points="195.88,793.36 221.26,814.31 246.64,836.29 272.02,858.78 297.40,876.15 322.78,887.40 348.16,889.18 373.54,889.18 398.92,891.99 424.30,896.59 449.68,891.99 475.06,896.85 500.44,896.85 525.82,896.85 551.20,898.89 576.58,899.30 601.96,900.17 627.34,897.92 652.72,901.81 678.10,901.96 703.48,904.26 728.86,905.08 754.24,904.62 779.62,907.12 805.00,909.01 830.38,907.12 855.76,909.98 881.14,911.93 906.52,909.52 931.90,909.01 957.28,909.01 982.66,913.46 1008.04,911.93 1033.42,911.42 1058.80,911.42 1084.18,913.97 1109.56,912.08 1134.94,912.44 1160.32,912.08 1185.70,912.08 1211.08,912.08 1236.46,913.97 1261.84,912.08" fill="none" stroke="#2eae6b" stroke-width="2.3" stroke-linejoin="round"/>
<polygon points="188.88,786.76 202.88,786.76 202.88,791.56 199.68,796.96 197.68,799.96 194.08,799.96 192.08,796.96 188.88,791.56" fill="#2eae6b"/><polygon points="214.26,807.71 228.26,807.71 228.26,812.51 225.06,817.91 223.06,820.91 219.46,820.91 217.46,817.91 214.26,812.51" fill="#2eae6b"/><polygon points="239.64,829.69 253.64,829.69 253.64,834.49 250.44,839.89 248.44,842.89 244.84,842.89 242.84,839.89 239.64,834.49" fill="#2eae6b"/><polygon points="265.02,852.18 279.02,852.18 279.02,856.98 275.82,862.38 273.82,865.38 270.22,865.38 268.22,862.38 265.02,856.98" fill="#2eae6b"/><polygon points="290.40,869.55 304.40,869.55 304.40,874.35 301.20,879.75 299.20,882.75 295.60,882.75 293.60,879.75 290.40,874.35" fill="#2eae6b"/><polygon points="315.78,880.80 329.78,880.80 329.78,885.60 326.58,891.00 324.58,894.00 320.98,894.00 318.98,891.00 315.78,885.60" fill="#2eae6b"/><polygon points="341.16,882.58 355.16,882.58 355.16,887.38 351.96,892.78 349.96,895.78 346.36,895.78 344.36,892.78 341.16,887.38" fill="#2eae6b"/><polygon points="366.54,882.58 380.54,882.58 380.54,887.38 377.34,892.78 375.34,895.78 371.74,895.78 369.74,892.78 366.54,887.38" fill="#2eae6b"/><polygon points="391.92,885.39 405.92,885.39 405.92,890.19 402.72,895.59 400.72,898.59 397.12,898.59 395.12,895.59 391.92,890.19" fill="#2eae6b"/><polygon points="417.30,889.99 431.30,889.99 431.30,894.79 428.10,900.19 426.10,903.19 422.50,903.19 420.50,900.19 417.30,894.79" fill="#2eae6b"/><polygon points="442.68,885.39 456.68,885.39 456.68,890.19 453.48,895.59 451.48,898.59 447.88,898.59 445.88,895.59 442.68,890.19" fill="#2eae6b"/><polygon points="468.06,890.25 482.06,890.25 482.06,895.05 478.86,900.45 476.86,903.45 473.26,903.45 471.26,900.45 468.06,895.05" fill="#2eae6b"/><polygon points="493.44,890.25 507.44,890.25 507.44,895.05 504.24,900.45 502.24,903.45 498.64,903.45 496.64,900.45 493.44,895.05" fill="#2eae6b"/><polygon points="518.82,890.25 532.82,890.25 532.82,895.05 529.62,900.45 527.62,903.45 524.02,903.45 522.02,900.45 518.82,895.05" fill="#2eae6b"/><polygon points="544.20,892.29 558.20,892.29 558.20,897.09 555.00,902.49 553.00,905.49 549.40,905.49 547.40,902.49 544.20,897.09" fill="#2eae6b"/><polygon points="569.58,892.70 583.58,892.70 583.58,897.50 580.38,902.90 578.38,905.90 574.78,905.90 572.78,902.90 569.58,897.50" fill="#2eae6b"/><polygon points="594.96,893.57 608.96,893.57 608.96,898.37 605.76,903.77 603.76,906.77 600.16,906.77 598.16,903.77 594.96,898.37" fill="#2eae6b"/><polygon points="620.34,891.32 634.34,891.32 634.34,896.12 631.14,901.52 629.14,904.52 625.54,904.52 623.54,901.52 620.34,896.12" fill="#2eae6b"/><polygon points="645.72,895.21 659.72,895.21 659.72,900.01 656.52,905.41 654.52,908.41 650.92,908.41 648.92,905.41 645.72,900.01" fill="#2eae6b"/><polygon points="671.10,895.36 685.10,895.36 685.10,900.16 681.90,905.56 679.90,908.56 676.30,908.56 674.30,905.56 671.10,900.16" fill="#2eae6b"/><polygon points="696.48,897.66 710.48,897.66 710.48,902.46 707.28,907.86 705.28,910.86 701.68,910.86 699.68,907.86 696.48,902.46" fill="#2eae6b"/><polygon points="721.86,898.48 735.86,898.48 735.86,903.28 732.66,908.68 730.66,911.68 727.06,911.68 725.06,908.68 721.86,903.28" fill="#2eae6b"/><polygon points="747.24,898.02 761.24,898.02 761.24,902.82 758.04,908.22 756.04,911.22 752.44,911.22 750.44,908.22 747.24,902.82" fill="#2eae6b"/><polygon points="772.62,900.52 786.62,900.52 786.62,905.32 783.42,910.72 781.42,913.72 777.82,913.72 775.82,910.72 772.62,905.32" fill="#2eae6b"/><polygon points="798.00,902.41 812.00,902.41 812.00,907.21 808.80,912.61 806.80,915.61 803.20,915.61 801.20,912.61 798.00,907.21" fill="#2eae6b"/><polygon points="823.38,900.52 837.38,900.52 837.38,905.32 834.18,910.72 832.18,913.72 828.58,913.72 826.58,910.72 823.38,905.32" fill="#2eae6b"/><polygon points="848.76,903.38 862.76,903.38 862.76,908.18 859.56,913.58 857.56,916.58 853.96,916.58 851.96,913.58 848.76,908.18" fill="#2eae6b"/><polygon points="874.14,905.33 888.14,905.33 888.14,910.13 884.94,915.53 882.94,918.53 879.34,918.53 877.34,915.53 874.14,910.13" fill="#2eae6b"/><polygon points="899.52,902.92 913.52,902.92 913.52,907.72 910.32,913.12 908.32,916.12 904.72,916.12 902.72,913.12 899.52,907.72" fill="#2eae6b"/><polygon points="924.90,902.41 938.90,902.41 938.90,907.21 935.70,912.61 933.70,915.61 930.10,915.61 928.10,912.61 924.90,907.21" fill="#2eae6b"/><polygon points="950.28,902.41 964.28,902.41 964.28,907.21 961.08,912.61 959.08,915.61 955.48,915.61 953.48,912.61 950.28,907.21" fill="#2eae6b"/><polygon points="975.66,906.86 989.66,906.86 989.66,911.66 986.46,917.06 984.46,920.06 980.86,920.06 978.86,917.06 975.66,911.66" fill="#2eae6b"/><polygon points="1001.04,905.33 1015.04,905.33 1015.04,910.13 1011.84,915.53 1009.84,918.53 1006.24,918.53 1004.24,915.53 1001.04,910.13" fill="#2eae6b"/><polygon points="1026.42,904.82 1040.42,904.82 1040.42,909.62 1037.22,915.02 1035.22,918.02 1031.62,918.02 1029.62,915.02 1026.42,909.62" fill="#2eae6b"/><polygon points="1051.80,904.82 1065.80,904.82 1065.80,909.62 1062.60,915.02 1060.60,918.02 1057.00,918.02 1055.00,915.02 1051.80,909.62" fill="#2eae6b"/><polygon points="1077.18,907.37 1091.18,907.37 1091.18,912.17 1087.98,917.57 1085.98,920.57 1082.38,920.57 1080.38,917.57 1077.18,912.17" fill="#2eae6b"/><polygon points="1102.56,905.48 1116.56,905.48 1116.56,910.28 1113.36,915.68 1111.36,918.68 1107.76,918.68 1105.76,915.68 1102.56,910.28" fill="#2eae6b"/><polygon points="1127.94,905.84 1141.94,905.84 1141.94,910.64 1138.74,916.04 1136.74,919.04 1133.14,919.04 1131.14,916.04 1127.94,910.64" fill="#2eae6b"/><polygon points="1153.32,905.48 1167.32,905.48 1167.32,910.28 1164.12,915.68 1162.12,918.68 1158.52,918.68 1156.52,915.68 1153.32,910.28" fill="#2eae6b"/><polygon points="1178.70,905.48 1192.70,905.48 1192.70,910.28 1189.50,915.68 1187.50,918.68 1183.90,918.68 1181.90,915.68 1178.70,910.28" fill="#2eae6b"/><polygon points="1204.08,905.48 1218.08,905.48 1218.08,910.28 1214.88,915.68 1212.88,918.68 1209.28,918.68 1207.28,915.68 1204.08,910.28" fill="#2eae6b"/><polygon points="1229.46,907.37 1243.46,907.37 1243.46,912.17 1240.26,917.57 1238.26,920.57 1234.66,920.57 1232.66,917.57 1229.46,912.17" fill="#2eae6b"/><polygon points="1254.84,905.48 1268.84,905.48 1268.84,910.28 1265.64,915.68 1263.64,918.68 1260.04,918.68 1258.04,915.68 1254.84,910.28" fill="#2eae6b"/>
<polyline points="195.88,140.23 221.26,379.91 246.64,571.05 272.02,693.70 297.40,786.72 322.78,893.02 348.16,893.53 373.54,903.24 398.92,901.71 424.30,905.28 449.68,905.79 475.06,906.30 500.44,903.75 525.82,906.82 551.20,904.26 576.58,909.37 601.96,907.33 627.34,909.88 652.72,907.84 678.10,911.42 703.48,908.86 728.86,908.86 754.24,910.39 779.62,910.39 805.00,910.90 830.38,911.42 855.76,911.93 881.14,912.44 906.52,912.44 931.90,913.97 957.28,913.97 982.66,914.48 1008.04,914.99 1033.42,913.46 1058.80,914.99 1084.18,914.99 1109.56,917.55 1134.94,912.95 1160.32,914.99 1185.70,914.48 1211.08,914.99 1236.46,914.99 1261.84,914.48" fill="none" stroke="#b474e0" stroke-width="2.4" stroke-linejoin="round"/>
<polygon points="194.28,132.73 197.48,132.73 202.08,137.63 202.08,142.83 197.48,147.73 194.28,147.73 189.68,142.83 189.68,137.63" fill="#b474e0"/><polygon points="219.66,372.41 222.86,372.41 227.46,377.31 227.46,382.51 222.86,387.41 219.66,387.41 215.06,382.51 215.06,377.31" fill="#b474e0"/><polygon points="245.04,563.55 248.24,563.55 252.84,568.45 252.84,573.65 248.24,578.55 245.04,578.55 240.44,573.65 240.44,568.45" fill="#b474e0"/><polygon points="270.42,686.20 273.62,686.20 278.22,691.10 278.22,696.30 273.62,701.20 270.42,701.20 265.82,696.30 265.82,691.10" fill="#b474e0"/><polygon points="295.80,779.22 299.00,779.22 303.60,784.12 303.60,789.32 299.00,794.22 295.80,794.22 291.20,789.32 291.20,784.12" fill="#b474e0"/><polygon points="321.18,885.52 324.38,885.52 328.98,890.42 328.98,895.62 324.38,900.52 321.18,900.52 316.58,895.62 316.58,890.42" fill="#b474e0"/><polygon points="346.56,886.03 349.76,886.03 354.36,890.93 354.36,896.13 349.76,901.03 346.56,901.03 341.96,896.13 341.96,890.93" fill="#b474e0"/><polygon points="371.94,895.74 375.14,895.74 379.74,900.64 379.74,905.84 375.14,910.74 371.94,910.74 367.34,905.84 367.34,900.64" fill="#b474e0"/><polygon points="397.32,894.21 400.52,894.21 405.12,899.11 405.12,904.31 400.52,909.21 397.32,909.21 392.72,904.31 392.72,899.11" fill="#b474e0"/><polygon points="422.70,897.78 425.90,897.78 430.50,902.68 430.50,907.88 425.90,912.78 422.70,912.78 418.10,907.88 418.10,902.68" fill="#b474e0"/><polygon points="448.08,898.29 451.28,898.29 455.88,903.19 455.88,908.39 451.28,913.29 448.08,913.29 443.48,908.39 443.48,903.19" fill="#b474e0"/><polygon points="473.46,898.80 476.66,898.80 481.26,903.70 481.26,908.90 476.66,913.80 473.46,913.80 468.86,908.90 468.86,903.70" fill="#b474e0"/><polygon points="498.84,896.25 502.04,896.25 506.64,901.15 506.64,906.35 502.04,911.25 498.84,911.25 494.24,906.35 494.24,901.15" fill="#b474e0"/><polygon points="524.22,899.32 527.42,899.32 532.02,904.22 532.02,909.42 527.42,914.32 524.22,914.32 519.62,909.42 519.62,904.22" fill="#b474e0"/><polygon points="549.60,896.76 552.80,896.76 557.40,901.66 557.40,906.86 552.80,911.76 549.60,911.76 545.00,906.86 545.00,901.66" fill="#b474e0"/><polygon points="574.98,901.87 578.18,901.87 582.78,906.77 582.78,911.97 578.18,916.87 574.98,916.87 570.38,911.97 570.38,906.77" fill="#b474e0"/><polygon points="600.36,899.83 603.56,899.83 608.16,904.73 608.16,909.93 603.56,914.83 600.36,914.83 595.76,909.93 595.76,904.73" fill="#b474e0"/><polygon points="625.74,902.38 628.94,902.38 633.54,907.28 633.54,912.48 628.94,917.38 625.74,917.38 621.14,912.48 621.14,907.28" fill="#b474e0"/><polygon points="651.12,900.34 654.32,900.34 658.92,905.24 658.92,910.44 654.32,915.34 651.12,915.34 646.52,910.44 646.52,905.24" fill="#b474e0"/><polygon points="676.50,903.92 679.70,903.92 684.30,908.82 684.30,914.02 679.70,918.92 676.50,918.92 671.90,914.02 671.90,908.82" fill="#b474e0"/><polygon points="701.88,901.36 705.08,901.36 709.68,906.26 709.68,911.46 705.08,916.36 701.88,916.36 697.28,911.46 697.28,906.26" fill="#b474e0"/><polygon points="727.26,901.36 730.46,901.36 735.06,906.26 735.06,911.46 730.46,916.36 727.26,916.36 722.66,911.46 722.66,906.26" fill="#b474e0"/><polygon points="752.64,902.89 755.84,902.89 760.44,907.79 760.44,912.99 755.84,917.89 752.64,917.89 748.04,912.99 748.04,907.79" fill="#b474e0"/><polygon points="778.02,902.89 781.22,902.89 785.82,907.79 785.82,912.99 781.22,917.89 778.02,917.89 773.42,912.99 773.42,907.79" fill="#b474e0"/><polygon points="803.40,903.40 806.60,903.40 811.20,908.30 811.20,913.50 806.60,918.40 803.40,918.40 798.80,913.50 798.80,908.30" fill="#b474e0"/><polygon points="828.78,903.92 831.98,903.92 836.58,908.82 836.58,914.02 831.98,918.92 828.78,918.92 824.18,914.02 824.18,908.82" fill="#b474e0"/><polygon points="854.16,904.43 857.36,904.43 861.96,909.33 861.96,914.53 857.36,919.43 854.16,919.43 849.56,914.53 849.56,909.33" fill="#b474e0"/><polygon points="879.54,904.94 882.74,904.94 887.34,909.84 887.34,915.04 882.74,919.94 879.54,919.94 874.94,915.04 874.94,909.84" fill="#b474e0"/><polygon points="904.92,904.94 908.12,904.94 912.72,909.84 912.72,915.04 908.12,919.94 904.92,919.94 900.32,915.04 900.32,909.84" fill="#b474e0"/><polygon points="930.30,906.47 933.50,906.47 938.10,911.37 938.10,916.57 933.50,921.47 930.30,921.47 925.70,916.57 925.70,911.37" fill="#b474e0"/><polygon points="955.68,906.47 958.88,906.47 963.48,911.37 963.48,916.57 958.88,921.47 955.68,921.47 951.08,916.57 951.08,911.37" fill="#b474e0"/><polygon points="981.06,906.98 984.26,906.98 988.86,911.88 988.86,917.08 984.26,921.98 981.06,921.98 976.46,917.08 976.46,911.88" fill="#b474e0"/><polygon points="1006.44,907.49 1009.64,907.49 1014.24,912.39 1014.24,917.59 1009.64,922.49 1006.44,922.49 1001.84,917.59 1001.84,912.39" fill="#b474e0"/><polygon points="1031.82,905.96 1035.02,905.96 1039.62,910.86 1039.62,916.06 1035.02,920.96 1031.82,920.96 1027.22,916.06 1027.22,910.86" fill="#b474e0"/><polygon points="1057.20,907.49 1060.40,907.49 1065.00,912.39 1065.00,917.59 1060.40,922.49 1057.20,922.49 1052.60,917.59 1052.60,912.39" fill="#b474e0"/><polygon points="1082.58,907.49 1085.78,907.49 1090.38,912.39 1090.38,917.59 1085.78,922.49 1082.58,922.49 1077.98,917.59 1077.98,912.39" fill="#b474e0"/><polygon points="1107.96,910.05 1111.16,910.05 1115.76,914.95 1115.76,920.15 1111.16,925.05 1107.96,925.05 1103.36,920.15 1103.36,914.95" fill="#b474e0"/><polygon points="1133.34,905.45 1136.54,905.45 1141.14,910.35 1141.14,915.55 1136.54,920.45 1133.34,920.45 1128.74,915.55 1128.74,910.35" fill="#b474e0"/><polygon points="1158.72,907.49 1161.92,907.49 1166.52,912.39 1166.52,917.59 1161.92,922.49 1158.72,922.49 1154.12,917.59 1154.12,912.39" fill="#b474e0"/><polygon points="1184.10,906.98 1187.30,906.98 1191.90,911.88 1191.90,917.08 1187.30,921.98 1184.10,921.98 1179.50,917.08 1179.50,911.88" fill="#b474e0"/><polygon points="1209.48,907.49 1212.68,907.49 1217.28,912.39 1217.28,917.59 1212.68,922.49 1209.48,922.49 1204.88,917.59 1204.88,912.39" fill="#b474e0"/><polygon points="1234.86,907.49 1238.06,907.49 1242.66,912.39 1242.66,917.59 1238.06,922.49 1234.86,922.49 1230.26,917.59 1230.26,912.39" fill="#b474e0"/><polygon points="1260.24,906.98 1263.44,906.98 1268.04,911.88 1268.04,917.08 1263.44,921.98 1260.24,921.98 1255.64,917.08 1255.64,911.88" fill="#b474e0"/>
<rect x="640" y="109" width="663" height="275" fill="#fff"/><rect x="640" y="109" width="2.3" height="274.5" fill="#4d4d4d"/><rect x="640" y="109" width="663" height="2.4" fill="#c3c3c3"/><rect x="642" y="111.3" width="658.8" height="2.6" fill="#8f8f8f"/><rect x="1298" y="113.9" width="2.8" height="267.1" fill="#dadada"/><rect x="1300.8" y="111.3" width="2.1" height="272.4" fill="#7a7a7a"/><rect x="640" y="381" width="663" height="2.7" fill="#6e6e6e"/><rect x="646.6" y="141.10" width="98" height="2.6" fill="#434343"/><rect x="689.50" y="136.40" width="12" height="12" fill="#434343"/><g font-family="Liberation Serif" fill="#111"><text transform="translate(779.00,158.50) scale(0.730,1)" x="-17.47" style="stroke-width:0" font-size="48">N</text><text transform="translate(803.00,158.50) scale(0.934,1)" x="-12.00" font-size="48">o</text><text transform="translate(821.48,158.50) scale(1.000,1)" x="-6.00" font-size="48">.</text><text transform="translate(875.00,158.50) scale(0.888,1)" x="-12.67" font-size="48">1</text><text transform="translate(923.00,158.50) scale(0.960,1)" x="-11.45" font-size="48">p</text><text transform="translate(947.00,158.50) scale(1.058,1)" x="-10.76" style="stroke-width:0.68px" font-size="48">e</text><text transform="translate(971.00,158.50) scale(1.233,1)" x="-8.26" style="stroke-width:0.86px" font-size="48">r</text><text transform="translate(995.00,158.50) scale(0.641,1)" x="-18.80" style="stroke-width:0" font-size="48">m</text><text transform="translate(1019.00,158.50) scale(0.949,1)" x="-11.17" font-size="48">a</text><text transform="translate(1043.00,158.50) scale(0.925,1)" x="-12.19" font-size="48">n</text><text transform="translate(1067.00,158.50) scale(1.058,1)" x="-10.76" style="stroke-width:0.68px" font-size="48">e</text><text transform="translate(1091.00,158.50) scale(0.925,1)" x="-12.19" font-size="48">n</text><text transform="translate(1115.00,158.50) scale(1.351,1)" x="-6.76" style="stroke-width:0.96px" font-size="48">t</text><text transform="translate(1163.00,158.50) scale(0.641,1)" x="-18.80" style="stroke-width:0" font-size="48">m</text><text transform="translate(1187.00,158.50) scale(0.949,1)" x="-11.17" font-size="48">a</text><text transform="translate(1211.00,158.50) scale(0.904,1)" x="-12.57" font-size="48">g</text><text transform="translate(1235.00,158.50) scale(0.925,1)" x="-12.19" font-size="48">n</text><text transform="translate(1259.00,158.50) scale(1.058,1)" x="-10.76" style="stroke-width:0.68px" font-size="48">e</text><text transform="translate(1283.00,158.50) scale(1.351,1)" x="-6.76" style="stroke-width:0.96px" font-size="48">t</text></g><rect x="646.6" y="193.30" width="98" height="2.6" fill="#f04444"/><circle cx="695.50" cy="194.50" r="6.3" fill="#f04444"/><g font-family="Liberation Serif" fill="#111"><text transform="translate(779.00,211.00) scale(0.730,1)" x="-17.47" style="stroke-width:0" font-size="48">N</text><text transform="translate(803.00,211.00) scale(0.934,1)" x="-12.00" font-size="48">o</text><text transform="translate(821.48,211.00) scale(1.000,1)" x="-6.00" font-size="48">.</text><text transform="translate(875.00,211.00) scale(1.000,1)" x="-11.73" font-size="48">2</text><text transform="translate(923.00,211.00) scale(0.876,1)" x="-13.08" font-size="48">P</text><text transform="translate(947.00,211.00) scale(1.058,1)" x="-10.76" style="stroke-width:0.68px" font-size="48">e</text><text transform="translate(971.00,211.00) scale(1.233,1)" x="-8.26" style="stroke-width:0.86px" font-size="48">r</text><text transform="translate(995.00,211.00) scale(0.641,1)" x="-18.80" style="stroke-width:0" font-size="48">m</text><text transform="translate(1019.00,211.00) scale(0.949,1)" x="-11.17" font-size="48">a</text><text transform="translate(1043.00,211.00) scale(0.925,1)" x="-12.19" font-size="48">n</text><text transform="translate(1067.00,211.00) scale(1.058,1)" x="-10.76" style="stroke-width:0.68px" font-size="48">e</text><text transform="translate(1091.00,211.00) scale(0.925,1)" x="-12.19" font-size="48">n</text><text transform="translate(1115.00,211.00) scale(1.351,1)" x="-6.76" style="stroke-width:0.96px" font-size="48">t</text><text transform="translate(1163.00,211.00) scale(0.572,1)" x="-21.33" style="stroke-width:0" font-size="48">M</text><text transform="translate(1187.00,211.00) scale(0.949,1)" x="-11.17" font-size="48">a</text><text transform="translate(1211.00,211.00) scale(0.904,1)" x="-12.57" font-size="48">g</text><text transform="translate(1235.00,211.00) scale(0.925,1)" x="-12.19" font-size="48">n</text><text transform="translate(1259.00,211.00) scale(1.058,1)" x="-10.76" style="stroke-width:0.68px" font-size="48">e</text><text transform="translate(1283.00,211.00) scale(1.351,1)" x="-6.76" style="stroke-width:0.96px" font-size="48">t</text></g><rect x="646.6" y="245.20" width="98" height="4.0" fill="#6f9fe8"/><polygon points="688.50,251.60 702.50,251.60 702.50,246.80 699.30,241.40 697.30,238.40 693.70,238.40 691.70,241.40 688.50,246.80" fill="#1b6ae0"/><g font-family="Liberation Serif" fill="#111"><text transform="translate(779.00,263.50) scale(0.730,1)" x="-17.47" style="stroke-width:0" font-size="48">N</text><text transform="translate(803.00,263.50) scale(0.934,1)" x="-12.00" font-size="48">o</text><text transform="translate(821.48,263.50) scale(1.000,1)" x="-6.00" font-size="48">.</text><text transform="translate(875.00,263.50) scale(1.000,1)" x="-12.21" font-size="48">3</text><text transform="translate(923.00,263.50) scale(0.876,1)" x="-13.08" font-size="48">P</text><text transform="translate(947.00,263.50) scale(1.058,1)" x="-10.76" style="stroke-width:0.68px" font-size="48">e</text><text transform="translate(971.00,263.50) scale(1.233,1)" x="-8.26" style="stroke-width:0.86px" font-size="48">r</text><text transform="translate(995.00,263.50) scale(0.641,1)" x="-18.80" style="stroke-width:0" font-size="48">m</text><text transform="translate(1019.00,263.50) scale(0.949,1)" x="-11.17" font-size="48">a</text><text transform="translate(1043.00,263.50) scale(0.925,1)" x="-12.19" font-size="48">n</text><text transform="translate(1067.00,263.50) scale(1.058,1)" x="-10.76" style="stroke-width:0.68px" font-size="48">e</text><text transform="translate(1091.00,263.50) scale(0.925,1)" x="-12.19" font-size="48">n</text><text transform="translate(1115.00,263.50) scale(1.351,1)" x="-6.76" style="stroke-width:0.96px" font-size="48">t</text><text transform="translate(1163.00,263.50) scale(0.572,1)" x="-21.33" style="stroke-width:0" font-size="48">M</text><text transform="translate(1187.00,263.50) scale(0.949,1)" x="-11.17" font-size="48">a</text><text transform="translate(1211.00,263.50) scale(0.904,1)" x="-12.57" font-size="48">g</text><text transform="translate(1235.00,263.50) scale(0.925,1)" x="-12.19" font-size="48">n</text><text transform="translate(1259.00,263.50) scale(1.058,1)" x="-10.76" style="stroke-width:0.68px" font-size="48">e</text><text transform="translate(1283.00,263.50) scale(1.351,1)" x="-6.76" style="stroke-width:0.96px" font-size="48">t</text></g><rect x="646.6" y="298.00" width="98" height="3.2" fill="#2eae6b"/><polygon points="688.50,295.20 702.50,295.20 702.50,300.00 699.30,305.40 697.30,308.40 693.70,308.40 691.70,305.40 688.50,300.00" fill="#2eae6b"/><g font-family="Liberation Serif" fill="#111"><text transform="translate(779.00,316.00) scale(0.730,1)" x="-17.47" style="stroke-width:0" font-size="48">N</text><text transform="translate(803.00,316.00) scale(0.934,1)" x="-12.00" font-size="48">o</text><text transform="translate(821.48,316.00) scale(1.000,1)" x="-6.00" font-size="48">.</text><text transform="translate(875.00,316.00) scale(1.000,1)" x="-12.09" font-size="48">4</text><text transform="translate(923.00,316.00) scale(0.876,1)" x="-13.08" font-size="48">P</text><text transform="translate(947.00,316.00) scale(1.058,1)" x="-10.76" style="stroke-width:0.68px" font-size="48">e</text><text transform="translate(971.00,316.00) scale(1.233,1)" x="-8.26" style="stroke-width:0.86px" font-size="48">r</text><text transform="translate(995.00,316.00) scale(0.641,1)" x="-18.80" style="stroke-width:0" font-size="48">m</text><text transform="translate(1019.00,316.00) scale(0.949,1)" x="-11.17" font-size="48">a</text><text transform="translate(1043.00,316.00) scale(0.925,1)" x="-12.19" font-size="48">n</text><text transform="translate(1067.00,316.00) scale(1.058,1)" x="-10.76" style="stroke-width:0.68px" font-size="48">e</text><text transform="translate(1091.00,316.00) scale(0.925,1)" x="-12.19" font-size="48">n</text><text transform="translate(1115.00,316.00) scale(1.351,1)" x="-6.76" style="stroke-width:0.96px" font-size="48">t</text><text transform="translate(1163.00,316.00) scale(0.572,1)" x="-21.33" style="stroke-width:0" font-size="48">M</text><text transform="translate(1187.00,316.00) scale(0.949,1)" x="-11.17" font-size="48">a</text><text transform="translate(1211.00,316.00) scale(0.904,1)" x="-12.57" font-size="48">g</text><text transform="translate(1235.00,316.00) scale(0.925,1)" x="-12.19" font-size="48">n</text><text transform="translate(1259.00,316.00) scale(1.058,1)" x="-10.76" style="stroke-width:0.68px" font-size="48">e</text><text transform="translate(1283.00,316.00) scale(1.351,1)" x="-6.76" style="stroke-width:0.96px" font-size="48">t</text></g><rect x="646.6" y="351.00" width="98" height="2.6" fill="#b474e0"/><polygon points="693.90,345.00 697.10,345.00 701.70,349.90 701.70,355.10 697.10,360.00 693.90,360.00 689.30,355.10 689.30,349.90" fill="#b474e0"/><g font-family="Liberation Serif" fill="#111"><text transform="translate(779.00,368.50) scale(0.730,1)" x="-17.47" style="stroke-width:0" font-size="48">N</text><text transform="translate(803.00,368.50) scale(0.934,1)" x="-12.00" font-size="48">o</text><text transform="translate(821.48,368.50) scale(1.000,1)" x="-6.00" font-size="48">.</text><text transform="translate(875.00,368.50) scale(1.000,1)" x="-12.46" font-size="48">5</text><text transform="translate(923.00,368.50) scale(0.876,1)" x="-13.08" font-size="48">P</text><text transform="translate(947.00,368.50) scale(1.058,1)" x="-10.76" style="stroke-width:0.68px" font-size="48">e</text><text transform="translate(971.00,368.50) scale(1.233,1)" x="-8.26" style="stroke-width:0.86px" font-size="48">r</text><text transform="translate(995.00,368.50) scale(0.641,1)" x="-18.80" style="stroke-width:0" font-size="48">m</text><text transform="translate(1019.00,368.50) scale(0.949,1)" x="-11.17" font-size="48">a</text><text transform="translate(1043.00,368.50) scale(0.925,1)" x="-12.19" font-size="48">n</text><text transform="translate(1067.00,368.50) scale(1.058,1)" x="-10.76" style="stroke-width:0.68px" font-size="48">e</text><text transform="translate(1091.00,368.50) scale(0.925,1)" x="-12.19" font-size="48">n</text><text transform="translate(1115.00,368.50) scale(1.351,1)" x="-6.76" style="stroke-width:0.96px" font-size="48">t</text><text transform="translate(1163.00,368.50) scale(0.572,1)" x="-21.33" style="stroke-width:0" font-size="48">M</text><text transform="translate(1187.00,368.50) scale(0.949,1)" x="-11.17" font-size="48">a</text><text transform="translate(1211.00,368.50) scale(0.904,1)" x="-12.57" font-size="48">g</text><text transform="translate(1235.00,368.50) scale(0.925,1)" x="-12.19" font-size="48">n</text><text transform="translate(1259.00,368.50) scale(1.058,1)" x="-10.76" style="stroke-width:0.68px" font-size="48">e</text><text transform="translate(1283.00,368.50) scale(1.351,1)" x="-6.76" style="stroke-width:0.96px" font-size="48">t</text></g>
</svg></body></html>
